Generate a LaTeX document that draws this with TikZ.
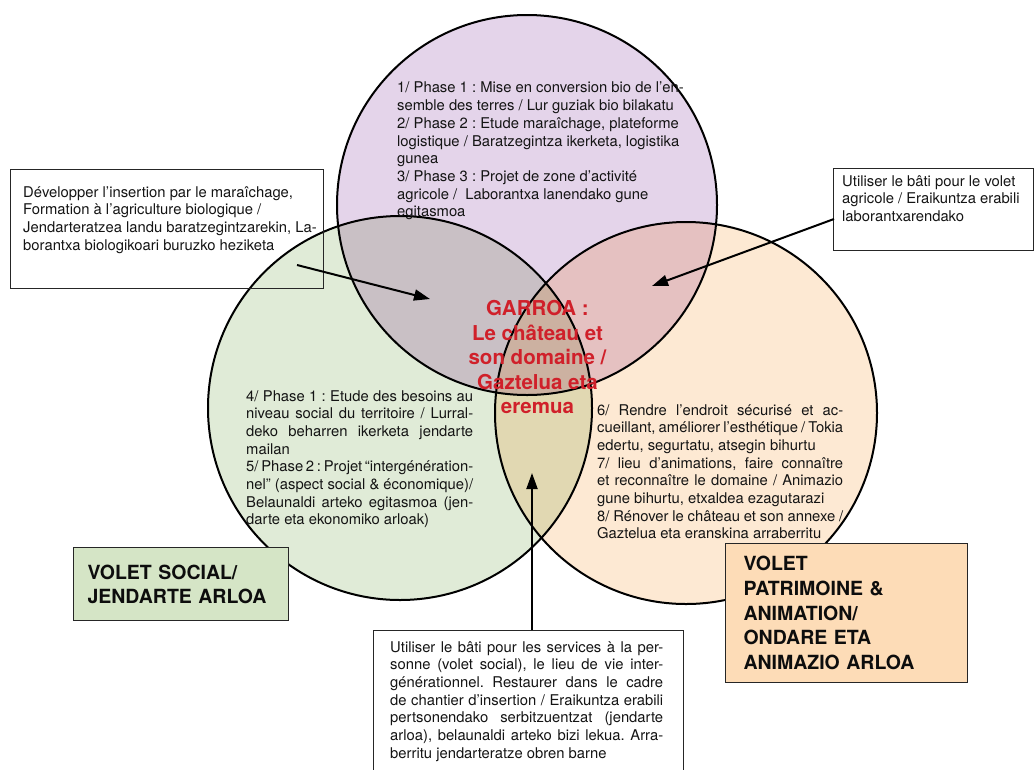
\documentclass[tikz,border=0pt]{standalone}
\usepackage{fontspec}
\setmainfont{TeX Gyre Heros}
\usetikzlibrary{arrows.meta}
\definecolor{lilac}{HTML}{E4D4EA}
\definecolor{softgreen}{HTML}{E0EBD7}
\definecolor{peach}{HTML}{FDE9D3}
\definecolor{greyx}{HTML}{C9C0C5}
\definecolor{pinkx}{HTML}{E5C1C1}
\definecolor{khaki}{HTML}{E1D8B2}
\definecolor{brownx}{HTML}{CCB1A1}
\definecolor{labgreen}{HTML}{D5E5C6}
\definecolor{labpeach}{HTML}{FDDCB7}
\definecolor{titlered}{HTML}{D0202A}
\newcommand{\JL}[2]{\makebox[#1][s]{#2}}
\frenchspacing
\begin{document}
\begin{tikzpicture}[x=1pt,y=-1pt,
  txt/.style={inner sep=0pt, align=left, anchor=north west, text=black!92,
    font=\fontsize{14.8}{17.7}\selectfont\frenchspacing},
  frame/.style={draw=black!85, line width=1pt, inner sep=0pt, anchor=north west},
  lab/.style={draw=black!85, line width=1pt, anchor=north west, align=left,
    font=\fontsize{19.5}{24.6}\selectfont\bfseries\frenchspacing, text=black!95},
  ring/.style={draw=black, line width=2pt},
  arr/.style={draw=black, line width=2pt, -{Triangle[length=16pt,width=11pt]}},
  ]
\useasboundingbox (0,0) rectangle (1035,769);
\clip (0,0) rectangle (1035,769);
% circle fills
\fill[lilac] (527,205) circle[radius=190pt];
\fill[softgreen] (400,408) circle[radius=192pt];
\fill[peach] (686,413) circle[radius=191pt];
\begin{scope}
  \clip (527,205) circle[radius=190pt];
  \fill[greyx] (400,408) circle[radius=192pt];
  \fill[pinkx] (686,413) circle[radius=191pt];
\end{scope}
\begin{scope}
  \clip (400,408) circle[radius=192pt];
  \fill[khaki] (686,413) circle[radius=191pt];
  \clip (527,205) circle[radius=190pt];
  \fill[brownx] (686,413) circle[radius=191pt];
\end{scope}
% circle outlines
\draw[ring] (400,408) circle[radius=192pt];
\draw[ring] (686,413) circle[radius=191pt];
\draw[ring] (527,205) circle[radius=190pt];

% texts in circles
\node[txt] (ttop) at (397,82) {1/ Phase 1 : Mise en conversion bio de l’en-\\
semble des terres / Lur guziak bio bilakatu\\
2/ Phase 2 : Etude maraîchage, plateforme\\
logistique / Baratzegintza ikerketa, logistika\\
gunea\\
3/ Phase 3 : Projet de zone d’activité\\
agricole / \ Laborantxa lanendako gune\\
egitasmoa};

\node[txt] (tleft) at (246,390) {\JL{227pt}{4/ Phase 1 : Etude des besoins au}\\
\JL{227pt}{niveau social du territoire / Lurral-}\\
\JL{227pt}{deko beharren ikerketa jendarte}\\
mailan\\
\JL{227pt}{5/ Phase 2 : Projet “intergénération-}\\
\JL{227pt}{nel” (aspect social \& économique)/}\\
\JL{227pt}{Belaunaldi arteko egitasmoa (jen-}\\
darte eta ekonomiko arloak)};

\node[txt] (tright) at (597,404) {\JL{246pt}{6/ Rendre l’endroit sécurisé et ac-}\\
\JL{246pt}{cueillant, améliorer l’esthétique / Tokia}\\
edertu, segurtatu, atsegin bihurtu\\
\JL{246pt}{7/ lieu d’animations, faire connaître}\\
\JL{246pt}{et reconnaître le domaine / Animazio}\\
gune bihurtu, etxaldea ezagutarazi\\
\JL{246pt}{8/ Rénover le château et son annexe /}\\
Gaztelua eta eranskina arraberritu};

\node[inner sep=0pt, anchor=north, align=center, text=titlered,
  font=\fontsize{20.5}{24.5}\selectfont\bfseries] (title) at (537.5,300.5)
  {GARROA :\\Le château et\\son domaine /\\Gaztelua eta\\eremua};

% boxes
\node[frame, minimum width=313pt, minimum height=119pt] (lbox) at (10,169) {};
\node[txt] (lboxtxt) at (23,186) {Développer l’insertion par le maraîchage,\\
Formation à l’agriculture biologique /\\
Jendarteratzea landu baratzegintzarekin, La-\\
borantxa biologikoari buruzko heziketa};

\node[frame, minimum width=200pt, minimum height=82pt] (rbox) at (833,168) {};
\node[txt] (rboxtxt) at (842,175) {Utiliser le bâti pour le volet\\
agricole / Eraikuntza erabili\\
laborantxarendako};

\node[frame, fill=white, minimum width=310pt, minimum height=170pt] (bbox) at (373,630) {};
\node[txt] (bboxtxt) at (390,641) {\JL{273pt}{Utiliser le bâti pour les services à la per-}\\
\JL{273pt}{sonne (volet social), le lieu de vie inter-}\\
\JL{273pt}{générationnel. Restaurer dans le cadre}\\
\JL{273pt}{de chantier d’insertion / Eraikuntza erabili}\\
\JL{273pt}{pertsonendako serbitzuentzat (jendarte}\\
\JL{273pt}{arloa), belaunaldi arteko bizi lekua. Arra-}\\
berritu jendarteratze obren barne};

% label boxes
\node[lab, fill=labgreen, minimum width=215pt, minimum height=73pt,
  inner xsep=14pt, text width=187pt,
  font=\fontsize{19.5}{24}\selectfont\bfseries\frenchspacing] (vsocial) at (73,547)
  {VOLET SOCIAL/\\JENDARTE ARLOA};
\node[lab, fill=labpeach, minimum width=242pt, minimum height=139pt,
  inner xsep=18pt, text width=206pt] (vpatr) at (725,543)
  {VOLET\\PATRIMOINE \&\\ANIMATION/\\ONDARE ETA\\ANIMAZIO ARLOA};

% arrows
\coordinate (a1s) at (297,265);
\coordinate (a1e) at (430,299);
\draw[arr] (a1s) -- (a1e);
\coordinate (a2s) at (834,219);
\coordinate (a2e) at (652,286);
\draw[arr] (a2s) -- (a2e);
\coordinate (a3e) at (532,473);
\draw[arr] (a3e |- bbox.north) -- (a3e);
\end{tikzpicture}
\end{document}
